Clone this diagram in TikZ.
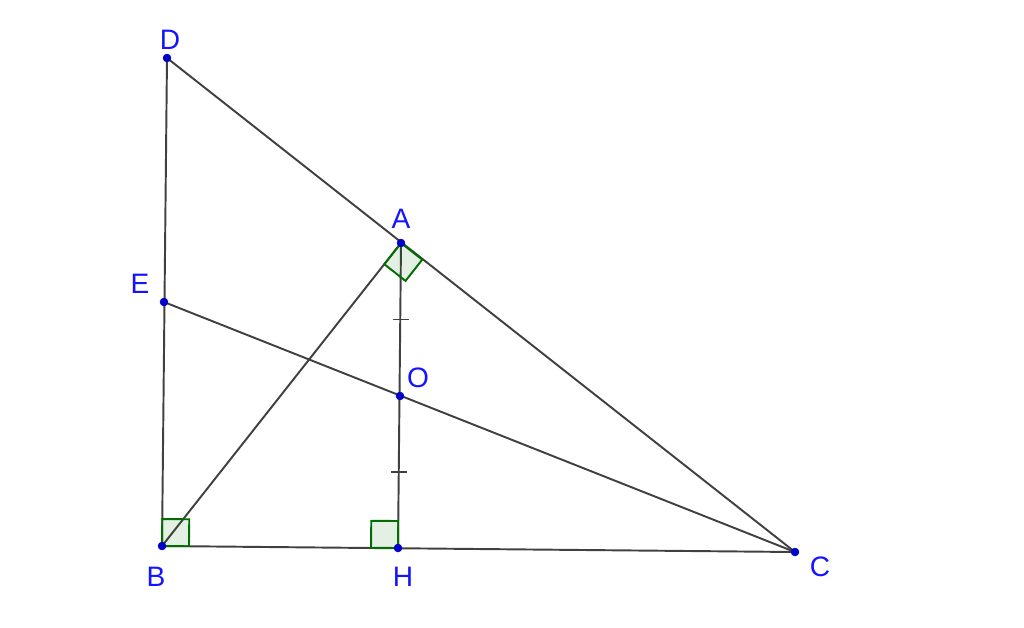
\documentclass[tikz,border=0pt]{standalone}
\usepackage{fontspec}
\setmainfont{Liberation Sans}
\usetikzlibrary{calc}
\definecolor{segcol}{RGB}{64,64,64}
\definecolor{ptcol}{RGB}{0,0,200}
\definecolor{lblcol}{RGB}{20,20,255}
\definecolor{racol}{RGB}{0,110,0}
\tikzset{
  seg/.style={color=segcol, line width=1.1pt},
  ramark/.style={draw=racol, fill=racol, fill opacity=0.1, line width=1.1pt},
  lbl/.style={text=lblcol, font=\fontsize{16}{16}\selectfont, inner sep=0pt},
}
\newcommand{\anglerecto}[3]{% corner, leg1, leg2
  \coordinate (ra1) at ($(#1)!0.54cm!(#2)$);
  \coordinate (ra2) at ($(#1)!0.54cm!(#3)$);
  \filldraw[ramark] (#1) -- (ra1) -- ($(ra1)+(ra2)-(#1)$) -- (ra2) -- cycle;
}
\begin{document}
\begin{tikzpicture}[x=0.02cm, y=-0.02cm] %Triangulo rectangulo con altura AH
    \useasboundingbox (0,0) rectangle (1024,627);

    \coordinate (D) at (167,58);
    \coordinate (A) at (401,243);
    \coordinate (E) at (164,302);
    \coordinate (O) at (400,396);
    \coordinate (B) at (162,546);
    \coordinate (H) at (398,548);
    \coordinate (C) at (795,552);

    \draw[seg] (D) -- (B);
    \draw[seg] (D) -- (C);
    \draw[seg] (B) -- (C);
    \draw[seg] (A) -- (B);
    \draw[seg] (A) -- (H);
    \draw[seg] (E) -- (C);

    % marcas de segmentos iguales
    \draw[seg] ($(A)!0.5!(O)$) ++(-8,0) -- ++(16,0);
    \draw[seg] ($(O)!0.5!(H)$) ++(-8,0) -- ++(16,0);

    % angulos rectos
    \anglerecto{A}{B}{C}
    \anglerecto{B}{C}{D}
    \anglerecto{H}{B}{A}

    \filldraw[ptcol] (D) circle (2.2pt);
    \filldraw[ptcol] (A) circle (2.2pt);
    \filldraw[ptcol] (E) circle (2.2pt);
    \filldraw[ptcol] (O) circle (2.2pt);
    \filldraw[ptcol] (B) circle (2.2pt);
    \filldraw[ptcol] (H) circle (2.2pt);
    \filldraw[ptcol] (C) circle (2.2pt);

    \node[lbl] (labD) at (170,40) {D};
    \node[lbl] (labA) at (401,219) {A};
    \node[lbl] (labE) at (140,284) {E};
    \node[lbl] (labO) at (418,378) {O};
    \node[lbl] (labB) at (156,577) {B};
    \node[lbl] (labH) at (403,577) {H};
    \node[lbl] (labC) at (820,567) {C};
\end{tikzpicture}
\end{document}
